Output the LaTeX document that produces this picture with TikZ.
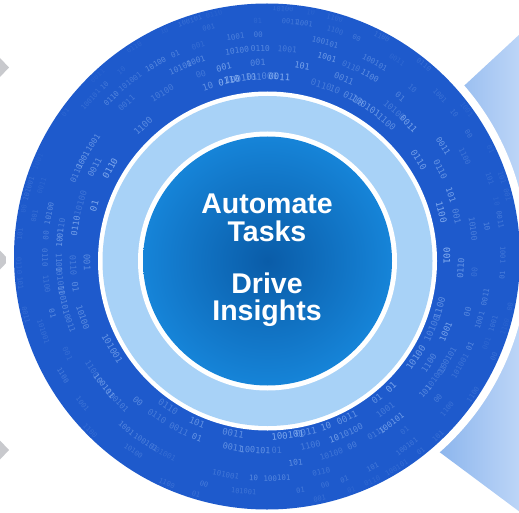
\documentclass[tikz,border=0pt]{standalone}
\usepackage{fontspec}
\setmainfont{Liberation Sans}
\newfontfamily\bitfont{DejaVu Sans Mono}
\definecolor{ringblue}{RGB}{30,90,204}
\definecolor{bitblue}{RGB}{150,188,245}
\definecolor{paleblue}{RGB}{168,210,247}
\definecolor{coreedge}{RGB}{22,132,216}
\definecolor{corecentre}{RGB}{10,92,168}
\definecolor{wedgeleft}{RGB}{135,178,236}
\definecolor{wedgeright}{RGB}{188,213,247}
\definecolor{chevgray}{RGB}{200,201,205}
\begin{document}
\begin{tikzpicture}[
    x=1pt, y=-1pt,
    corelabel/.style={text=white, font=\fontsize{28.5}{28.5}\selectfont\bfseries, anchor=base, inner sep=0pt},
    bits/.style={text=bitblue, inner sep=0pt},
    chevron/.style={fill=chevgray}
]
\useasboundingbox (0,0) rectangle (519,513);

% Chevrons on the left
\foreach \cy in {67.5,260,450}
  \fill[chevron] (0,\cy-9.5) -- (9,\cy) -- (0,\cy+9.5) -- cycle;

% Wedge on the right
\begin{scope}
  \clip (234,299) -- (575,-17) -- (575,553) -- cycle;
  \shade[left color=wedgeleft, right color=wedgeright] (430,-20) rectangle (519,560);
\end{scope}

% Outer ring
\fill[white] (267,256.5) circle[radius=261pt];
\fill[ringblue] (267,256.5) circle[radius=253pt];

% Binary texture
\pgfmathdeclarerandomlist{bitlist}{{1001}{01}{10}{101}{0011}{100101}{00}{1100}{001}{10100}{0110}{101001}}
\pgfmathsetseed{42}
\begin{scope}
  \clip (267,256.5) circle[radius=251pt];
  \foreach \r/\op/\fs in {180/0.6/9,194/0.5/8.5,208/0.45/8,222/0.35/7.5,236/0.25/7,248/0.15/7}
    \foreach \s in {0,6,...,354} {
      \pgfmathtruncatemacro{\keep}{rnd<0.5 ? 1 : 0}
      \ifnum\keep=1
        \pgfmathrandomitem{\bitstr}{bitlist}
        \pgfmathsetmacro{\ss}{\s+3*rnd}
        \pgfmathsetmacro{\rot}{sin(\ss)>0 ? \ss-90 : \ss+90}
        \pgfmathsetmacro{\alpha}{\op*(0.5+rnd)}
        \node[bits, opacity=\alpha, rotate=\rot, font=\bitfont\fontsize{\fs}{\fs}\selectfont] (bit-\r-\s)
          at ({267+\r*cos(\ss)},{256.5-\r*sin(\ss)}) {\bitstr};
      \fi
    }
\end{scope}

% Pale ring and core
\fill[white] (267.5,261) circle[radius=169.5pt];
\fill[paleblue] (267.5,261) circle[radius=165pt];
\fill[white] (267.5,261) circle[radius=129.5pt];
\shade[inner color=corecentre, outer color=coreedge] (267.5,261) circle[radius=124.5pt];

% Labels
\node[corelabel] (automate) at (267,214) {Automate};
\node[corelabel] (tasks) at (267,241.7) {Tasks};
\node[corelabel] (drive) at (267,293) {Drive};
\node[corelabel] (insights) at (267,320) {Insights};

\end{tikzpicture}
\end{document}
